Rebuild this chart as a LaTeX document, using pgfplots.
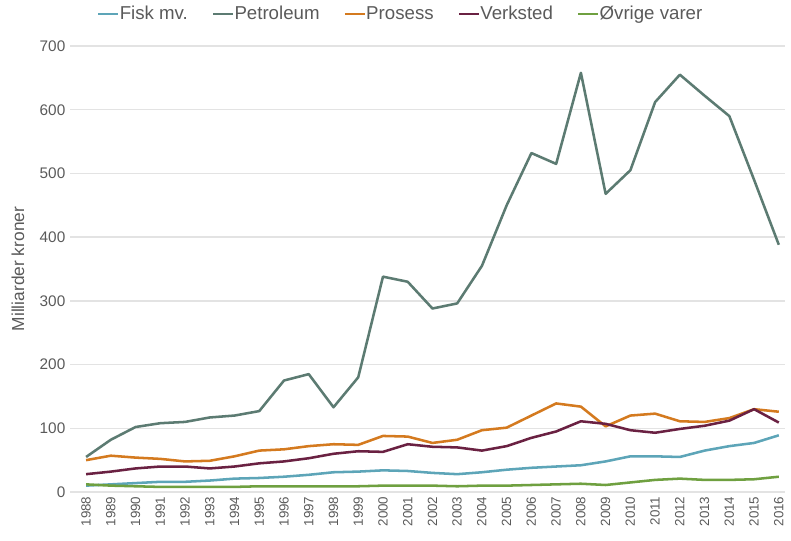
\documentclass[border=0pt]{standalone}
\usepackage{pgfplots}
\pgfplotsset{compat=1.18}
\usepackage{fontspec}
\setmainfont{Liberation Sans}
\definecolor{fisk}{HTML}{5DA5B8}
\definecolor{petro}{HTML}{5C7B72}
\definecolor{prosess}{HTML}{D47A1F}
\definecolor{verk}{HTML}{6A2142}
\definecolor{ovrig}{HTML}{6FA040}
\definecolor{txt}{HTML}{5A5A5A}
\definecolor{gridc}{HTML}{E3E3E3}
\begin{document}
\begin{tikzpicture}
\useasboundingbox (0,0) rectangle (593.25pt,405pt);
\begin{axis}[
  at={(52.5pt,36pt)}, anchor=south west,
  scale only axis, width=536.25pt, height=334.5pt,
  xmin=1987.35, xmax=2016.25, ymin=0, ymax=700,
  xtick={1988,...,2016},
  ytick={0,100,...,700},
  axis line style={draw=none},
  major tick length=0pt,
  xmajorgrids=false, ymajorgrids=true,
  y grid style={draw=gridc, line width=1pt},
  xticklabel style={rotate=90, anchor=east, font=\fontsize{10}{11}\selectfont, text=txt},
  yticklabel style={font=\fontsize{11.5}{12}\selectfont, text=txt},
  xticklabel={\pgfmathprintnumber[1000 sep={}]{\tick}},
  /pgf/number format/assume math mode=true,
  ylabel={Milliarder kroner},
  ylabel style={font=\fontsize{13}{14}\selectfont, text=txt, anchor=center, at={(axis description cs:-0.073,0.5)}},
  legend columns=5,
  legend style={draw=none, fill=none, at={(0.463,1.072)}, anchor=center,
    font=\fontsize{14}{15}\selectfont, text=txt, inner sep=0pt,
    /tikz/every even column/.append style={column sep=16pt},
    /tikz/every odd column/.append style={column sep=-2pt}},
  legend image code/.code={\draw[#1, line width=2pt] (0pt,0pt) -- (15pt,0pt);},
  legend cell align=left,
  every axis plot/.append style={line width=1.9pt, line join=round},
]
\addplot[fisk] coordinates {
(1988,10)(1989,12)(1990,14)(1991,16)(1992,16)(1993,18)(1994,21)(1995,22)(1996,24)(1997,27)
(1998,31)(1999,32)(2000,34)(2001,33)(2002,30)(2003,28)(2004,31)(2005,35)(2006,38)(2007,40)
(2008,42)(2009,48)(2010,56)(2011,56)(2012,55)(2013,65)(2014,72)(2015,77)(2016,89)};
\addlegendentry{Fisk mv.}
\addplot[petro] coordinates {
(1988,55)(1989,82)(1990,102)(1991,108)(1992,110)(1993,117)(1994,120)(1995,127)(1996,175)(1997,185)
(1998,133)(1999,180)(2000,338)(2001,330)(2002,288)(2003,296)(2004,355)(2005,450)(2006,532)(2007,515)
(2008,658)(2009,468)(2010,505)(2011,612)(2012,655)(2013,622)(2014,590)(2015,490)(2016,388)};
\addlegendentry{Petroleum}
\addplot[prosess] coordinates {
(1988,50)(1989,57)(1990,54)(1991,52)(1992,48)(1993,49)(1994,56)(1995,65)(1996,67)(1997,72)
(1998,75)(1999,74)(2000,88)(2001,87)(2002,77)(2003,82)(2004,97)(2005,101)(2006,120)(2007,139)
(2008,134)(2009,103)(2010,120)(2011,123)(2012,111)(2013,110)(2014,116)(2015,130)(2016,126)};
\addlegendentry{Prosess}
\addplot[verk] coordinates {
(1988,28)(1989,32)(1990,37)(1991,40)(1992,40)(1993,37)(1994,40)(1995,45)(1996,48)(1997,53)
(1998,60)(1999,64)(2000,63)(2001,75)(2002,71)(2003,70)(2004,65)(2005,72)(2006,85)(2007,95)
(2008,111)(2009,107)(2010,97)(2011,93)(2012,99)(2013,104)(2014,112)(2015,130)(2016,109)};
\addlegendentry{Verksted}
\addplot[ovrig] coordinates {
(1988,12)(1989,10)(1990,9)(1991,8)(1992,8)(1993,8)(1994,8)(1995,9)(1996,9)(1997,9)
(1998,9)(1999,9)(2000,10)(2001,10)(2002,10)(2003,9)(2004,10)(2005,10)(2006,11)(2007,12)
(2008,13)(2009,11)(2010,15)(2011,19)(2012,21)(2013,19)(2014,19)(2015,20)(2016,24)};
\addlegendentry{Øvrige varer}
\end{axis}
\end{tikzpicture}
\end{document}
